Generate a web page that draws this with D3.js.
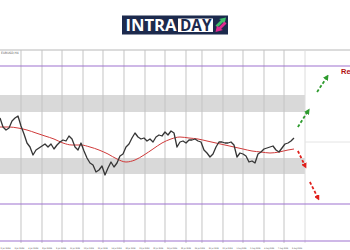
<!DOCTYPE html>
<html><head><meta charset="utf-8">
<script src="https://cdn.jsdelivr.net/npm/d3@7"></script>
<style>html,body{margin:0;padding:0;background:#fff;}svg{display:block;}</style>
</head><body>
<script>
// ---- data ----
const symbolLabel = "EURUSD,H4";
const prices = [1.1932,1.1923,1.1920,1.1922,1.1929,1.1932,1.1934,1.1924,1.1916,1.1907,
1.1903,1.1895,1.1900,1.1902,1.1904,1.1906,1.1903,1.1906,1.1901,1.1905,
1.1908,1.1910,1.1909,1.1914,1.1911,1.1903,1.1900,1.1907,1.1899,1.1892,
1.1887,1.1885,1.1878,1.1880,1.1884,1.1875,1.1882,1.1888,1.1883,1.1887,
1.1894,1.1896,1.1903,1.1906,1.1912,1.1917,1.1913,1.1911,1.1912,1.1909,
1.1911,1.1908,1.1913,1.1915,1.1914,1.1918,1.1915,1.1919,1.1917,1.1903,
1.1908,1.1909,1.1907,1.1910,1.1910,1.1911,1.1909,1.1908,1.1900,1.1897,
1.1893,1.1896,1.1903,1.1908,1.1908,1.1907,1.1907,1.1908,1.1905,1.1893,
1.1897,1.1896,1.1894,1.1888,1.1889,1.1887,1.1896,1.1898,1.1901,1.1902,
1.1903,1.1904,1.1900,1.1898,1.1902,1.1906,1.1907,1.1909,1.1912];
const maIndex = [0,3,6,9,12,15,18,21,24,27,30,33,36,39,42,45,48,51,54,57,60,63,66,69,72,75,78,81,84,87,90,93,96,98];
const maValues = [1.1923,1.1923,1.1922,1.1920,1.1917,1.1914,1.1911,1.1907,1.1905,1.1905,1.1903,1.1900,1.1896,1.1891,1.1888,1.1890,1.1895,1.1901,1.1907,1.1911,1.1913,1.1912,1.1911,1.1909,1.1907,1.1905,1.1903,1.1901,1.1899,1.1898,1.1897,1.1898,1.1900,1.1901];
const levels = [1.1984, 1.1846, 1.1809];
const zones = [[1.1955,1.1938],[1.1892,1.1876]];
const gridIdx = [7,14,20.67,27.67,34.33,41.33,48.33,55,62,67.33,74.33,81,88,94.67,101.67];
const tickLabels = ["2 Jul 2024","3 Jul 2024","4 Jul 2024","8 Jul 2024","9 Jul 2024","10 Jul 2024","12 Jul 2024","15 Jul 2024","16 Jul 2024","18 Jul 2024","19 Jul 2024","22 Jul 2024","24 Jul 2024","25 Jul 2024","26 Jul 2024","30 Jul 2024","31 Jul 2024","1 Aug 2024","5 Aug 2024","6 Aug 2024","7 Aug 2024","9 Aug 2024"];
const upArrows = [[[99.3,1.1923],[102.7,1.1939]],[[105.7,1.1958],[109,1.1973]]];
const downArrows = [[[99.3,1.1899],[101.7,1.1884]],[[103.3,1.1868],[106,1.1852]]];
const annotation = "Resistance";

// ---- layout ----
const W = 350, H = 250;
const svg = d3.select("body").append("svg").attr("width", W).attr("height", H);
const x = d3.scaleLinear().domain([0, 116.67]).range([0, 350]);
const y = d3.scaleLinear().domain([1.1807, 1.2000]).range([243, 50]);
const plotTop = 50, plotBottom = 243, plotRight = x(101.67);

const defs = svg.append("defs");
[["ahG","#2e9b2e"],["ahR","#e0201c"]].forEach(([id,c])=>{
  defs.append("marker").attr("id",id).attr("viewBox","0 0 10 10").attr("refX",5).attr("refY",5)
   .attr("markerWidth",3.2).attr("markerHeight",3.2).attr("orient","auto")
   .append("path").attr("d","M0,0L10,5L0,10Z").attr("fill",c);
});

// logo
const logo = svg.append("g");
logo.append("rect").attr("x",122).attr("y",15.5).attr("width",106).attr("height",19).attr("fill","#1c2a4d");
logo.append("rect").attr("x",178).attr("y",18.5).attr("width",35).attr("height",13.5).attr("fill","#ffffff");
logo.append("text").attr("x",125.5).attr("y",31).attr("font-family","Open Sans, sans-serif").attr("font-weight",700)
  .attr("font-size",16.5).attr("fill","#fff").attr("textLength",51).attr("lengthAdjust","spacingAndGlyphs").text("INTRA");
logo.append("text").attr("x",180).attr("y",31).attr("font-family","Open Sans, sans-serif").attr("font-weight",700)
  .attr("font-size",16.5).attr("fill","#1c2a4d").attr("textLength",31.5).attr("lengthAdjust","spacingAndGlyphs").text("DAY");
logo.append("path").attr("d","M215.5,25.5 L221,20 L219,19 L226,17.5 L224.5,24 L222.8,22.2 L217.5,27.5 Z").attr("fill","#3cc06a");
logo.append("path").attr("d","M226.5,23.5 L221,29 L223,30 L215.5,32 L217,25.5 L218.8,27.2 L224.5,21.5 Z").attr("fill","#e0298f");

// top border
svg.append("line").attr("x1",0).attr("x2",W).attr("y1",plotTop).attr("y2",plotTop).attr("stroke","#b8b8b8").attr("stroke-width",1);
svg.append("text").attr("x",1).attr("y",53.5).attr("font-family","DejaVu Sans, sans-serif").attr("font-size",3).attr("fill","#555").text(symbolLabel);

// zones
svg.selectAll("rect.zone").data(zones).join("rect").attr("class","zone")
  .attr("x",x(0)).attr("width",plotRight - x(0))
  .attr("y",d=>y(d[0])).attr("height",d=>y(d[1])-y(d[0])).attr("fill","#d9d9d9");

// grid
svg.selectAll("line.grid").data(gridIdx).join("line").attr("class","grid")
  .attr("x1",d=>x(d)).attr("x2",d=>x(d)).attr("y1",plotTop).attr("y2",plotBottom)
  .attr("stroke",(d,i)=> i===gridIdx.length-1 ? "#dcdcdc" : "#c4c4c4").attr("stroke-width",1);

// current price guide on the right
svg.append("line").attr("x1",plotRight).attr("x2",W).attr("y1",y(1.1908)).attr("y2",y(1.1908))
  .attr("stroke","#e4e4e4").attr("stroke-width",1);

// levels
svg.selectAll("line.lvl").data(levels).join("line").attr("class","lvl")
  .attr("x1",0).attr("x2",W).attr("y1",d=>y(d)).attr("y2",d=>y(d))
  .attr("stroke","#9d72cf").attr("stroke-width",1.2);

// MA
svg.append("path").datum(maIndex.map((d,i)=>[d,maValues[i]]))
  .attr("d", d3.line().x(d=>x(d[0])).y(d=>y(d[1])).curve(d3.curveMonotoneX))
  .attr("fill","none").attr("stroke","#d03a3a").attr("stroke-width",1);

// price
svg.append("path").datum(prices)
  .attr("d", d3.line().x((d,i)=>x(i)).y(d=>y(d)))
  .attr("fill","none").attr("stroke","#353535").attr("stroke-width",1.3).attr("stroke-linejoin","round");

// arrows
svg.selectAll("line.up").data(upArrows).join("line").attr("class","up")
  .attr("x1",d=>x(d[0][0])).attr("y1",d=>y(d[0][1])).attr("x2",d=>x(d[1][0])).attr("y2",d=>y(d[1][1]))
  .attr("stroke","#2e9b2e").attr("stroke-width",1.8).attr("stroke-dasharray","3,2").attr("marker-end","url(#ahG)");
svg.selectAll("line.down").data(downArrows).join("line").attr("class","down")
  .attr("x1",d=>x(d[0][0])).attr("y1",d=>y(d[0][1])).attr("x2",d=>x(d[1][0])).attr("y2",d=>y(d[1][1]))
  .attr("stroke","#e0201c").attr("stroke-width",1.8).attr("stroke-dasharray","3,2").attr("marker-end","url(#ahR)");

svg.append("text").attr("x",341).attr("y",y(1.1984)+7.5).attr("font-family","Liberation Sans, Arial, sans-serif")
  .attr("font-weight",700).attr("font-size",7.5).attr("fill","#b01010").text(annotation);

// x tick labels
const labX = d3.scaleLinear().domain([0, tickLabels.length-1]).range([0.5, 292]);
svg.selectAll("text.tick").data(tickLabels).join("text").attr("class","tick")
  .attr("x",(d,i)=>labX(i)).attr("y",248.5).attr("font-family","DejaVu Sans, sans-serif")
  .attr("font-size",2.1).attr("fill","#444").attr("textLength",10).attr("lengthAdjust","spacingAndGlyphs").text(d=>d);
</script>
</body></html>
